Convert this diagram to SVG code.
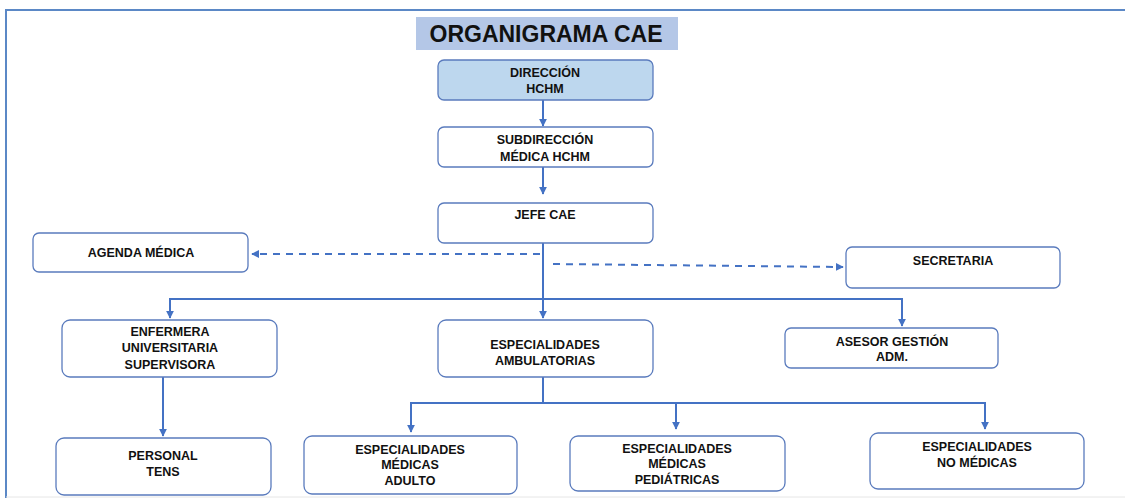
<svg xmlns="http://www.w3.org/2000/svg" width="1125" height="498" viewBox="0 0 1125 498">
<defs>
<style>
.box{fill:#ffffff;stroke:#5a7bbd;stroke-width:1.3}
.hl{fill:#bdd7ee}
.t{font-family:"Liberation Sans",Arial,sans-serif;font-weight:bold;font-size:12.5px;fill:#111;text-anchor:middle}
.title{font-family:"Liberation Sans",Arial,sans-serif;font-weight:bold;font-size:23px;fill:#111;text-anchor:middle}
.c{fill:none;stroke:#4472c4;stroke-width:2}
.d{fill:none;stroke:#4472c4;stroke-width:2;stroke-dasharray:7,6}
</style>
<marker id="ah" viewBox="0 0 10 10" refX="9" refY="5" markerWidth="4" markerHeight="4" orient="auto" markerUnits="strokeWidth">
<path d="M0,0 L10,5 L0,10 z" fill="#4472c4"/>
</marker>
</defs>
<rect x="0" y="0" width="1125" height="498" fill="#ffffff"/>
<path d="M6,498 V10 H1125" fill="none" stroke="#5b88c6" stroke-width="2"/>
<line x1="6" y1="497" x2="1125" y2="497" stroke="#e6e6e6" stroke-width="1"/>
<g id="title">
<rect x="416" y="17" width="262" height="33" fill="#b4c7e7"/>
<text class="title" x="546" y="42">ORGANIGRAMA CAE</text>
</g>
<g id="connectors">
<line class="c" x1="543" y1="100" x2="543" y2="126" marker-end="url(#ah)"/>
<line class="c" x1="543" y1="167" x2="543" y2="194" marker-end="url(#ah)"/>
<line class="c" x1="543" y1="243" x2="543" y2="318" marker-end="url(#ah)"/>
<line class="d" x1="540" y1="254" x2="252" y2="254" marker-end="url(#ah)"/>
<line class="d" x1="553" y1="264" x2="843" y2="267" marker-end="url(#ah)"/>
<polyline class="c" points="170,299 902,299 902,326" marker-end="url(#ah)"/>
<line class="c" x1="170" y1="298" x2="170" y2="318" marker-end="url(#ah)"/>
<line class="c" x1="163" y1="377" x2="163" y2="436" marker-end="url(#ah)"/>
<line class="c" x1="543" y1="377" x2="543" y2="403"/>
<polyline class="c" points="411,403 985,403 985,429" marker-end="url(#ah)"/>
<line class="c" x1="411" y1="402" x2="411" y2="432" marker-end="url(#ah)"/>
<line class="c" x1="676" y1="403" x2="676" y2="429" marker-end="url(#ah)"/>
</g>
<g id="direccion">
<rect class="box hl" x="438" y="60" width="215" height="40" rx="6"/>
<text class="t" x="545" y="77">DIRECCIÓN</text>
<text class="t" x="545" y="93">HCHM</text>
</g>
<g id="subdireccion">
<rect class="box" x="438" y="127" width="215" height="40" rx="6"/>
<text class="t" x="545" y="144">SUBDIRECCIÓN</text>
<text class="t" x="545" y="161">MÉDICA HCHM</text>
</g>
<g id="jefe">
<rect class="box" x="438" y="203" width="215" height="40" rx="6"/>
<text class="t" x="545" y="219">JEFE CAE</text>
</g>
<g id="agenda">
<rect class="box" x="33" y="233" width="215" height="39" rx="6"/>
<text class="t" x="141" y="257">AGENDA MÉDICA</text>
</g>
<g id="secretaria">
<rect class="box" x="846" y="247" width="214" height="41" rx="6"/>
<text class="t" x="953" y="265">SECRETARIA</text>
</g>
<g id="enfermera">
<rect class="box" x="62" y="320" width="215" height="57" rx="8"/>
<text class="t" x="170" y="336">ENFERMERA</text>
<text class="t" x="170" y="352">UNIVERSITARIA</text>
<text class="t" x="170" y="369">SUPERVISORA</text>
</g>
<g id="ambulatorias">
<rect class="box" x="438" y="320" width="215" height="57" rx="8"/>
<text class="t" x="545" y="349">ESPECIALIDADES</text>
<text class="t" x="545" y="365">AMBULATORIAS</text>
</g>
<g id="asesor">
<rect class="box" x="785" y="328" width="213" height="40" rx="6"/>
<text class="t" x="892" y="346">ASESOR GESTIÓN</text>
<text class="t" x="892" y="361">ADM.</text>
</g>
<g id="personal">
<rect class="box" x="56" y="438" width="215" height="57" rx="8"/>
<text class="t" x="163" y="460">PERSONAL</text>
<text class="t" x="163" y="476">TENS</text>
</g>
<g id="adulto">
<rect class="box" x="304" y="436" width="213" height="58" rx="8"/>
<text class="t" x="410" y="454">ESPECIALIDADES</text>
<text class="t" x="410" y="469">MÉDICAS</text>
<text class="t" x="410" y="485">ADULTO</text>
</g>
<g id="pediatricas">
<rect class="box" x="570" y="436" width="215" height="55" rx="8"/>
<text class="t" x="677" y="453">ESPECIALIDADES</text>
<text class="t" x="677" y="468">MÉDICAS</text>
<text class="t" x="677" y="484">PEDIÁTRICAS</text>
</g>
<g id="nomedicas">
<rect class="box" x="870" y="433" width="214" height="56" rx="8"/>
<text class="t" x="977" y="451">ESPECIALIDADES</text>
<text class="t" x="977" y="467">NO MÉDICAS</text>
</g>
</svg>
